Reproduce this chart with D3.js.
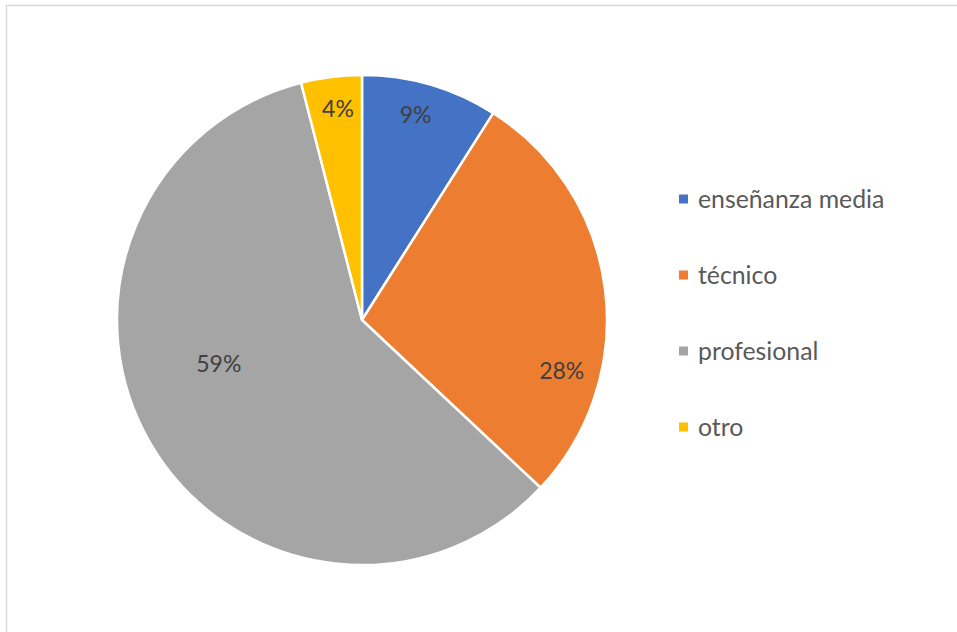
<!DOCTYPE html>
<html>
<head>
<meta charset="utf-8">
<script src="https://cdn.jsdelivr.net/npm/d3@7"></script>
<style>
  html, body { margin: 0; padding: 0; background: #ffffff; }
  svg { display: block; }
  text { font-family: Lato, "Open Sans", "Liberation Sans", sans-serif; }
</style>
</head>
<body>
<svg id="chart" width="957" height="632"></svg>
<script>
// Nivel de estudios
const categories = ["enseñanza media", "técnico", "profesional", "otro"];
const values = [9, 28, 59, 4];
const colors = ["#4472C4", "#ED7D31", "#A5A5A5", "#FFC000"];

// Where each percentage sits inside its slice: fraction along the slice's sweep and of the radius
const labelAlong = [0.45, 0.71, 0.566, 0.55];
const labelRadius = [0.87, 0.84, 0.61, 0.87];

const W = 957, H = 632;
const cx = 362, cy = 320, R = 245;

const svg = d3.select("#chart");

// chart area frame
svg.append("rect")
  .attr("x", 6.5).attr("y", 5.5)
  .attr("width", W + 10).attr("height", H + 10)
  .attr("fill", "#ffffff")
  .attr("stroke", "#d9d9d9")
  .attr("stroke-width", 1.5);

const pie = d3.pie().sort(null).value(d => d.value);
const data = categories.map((c, i) => ({ cat: c, value: values[i], color: colors[i], i }));
const arcs = pie(data);
const total = d3.sum(values);

const arc = d3.arc().innerRadius(0).outerRadius(R);

const g = svg.append("g").attr("transform", `translate(${cx},${cy})`);

g.selectAll("path.slice")
  .data(arcs)
  .join("path")
  .attr("class", "slice")
  .attr("d", arc)
  .attr("fill", d => d.data.color)
  .attr("stroke", "#ffffff")
  .attr("stroke-width", 2.5)
  .attr("stroke-linejoin", "round");

const fmt = d3.format(".0%");
g.selectAll("text.pct")
  .data(arcs)
  .join("text")
  .attr("class", "pct")
  .attr("x", d => {
    const a = d.startAngle + (d.endAngle - d.startAngle) * labelAlong[d.data.i];
    return Math.sin(a) * R * labelRadius[d.data.i];
  })
  .attr("y", d => {
    const a = d.startAngle + (d.endAngle - d.startAngle) * labelAlong[d.data.i];
    return -Math.cos(a) * R * labelRadius[d.data.i];
  })
  .attr("text-anchor", "middle")
  .attr("dominant-baseline", "central")
  .attr("font-size", 23)
  .attr("fill", "#404040")
  .text(d => fmt(d.data.value / total));

// legend
const legendY = d3.scalePoint().domain(categories).range([198, 426]);
const leg = svg.append("g");
const items = leg.selectAll("g.item")
  .data(data)
  .join("g")
  .attr("class", "item")
  .attr("transform", d => `translate(679,${legendY(d.cat)})`);

items.append("rect")
  .attr("x", 0).attr("y", -3.5)
  .attr("width", 9).attr("height", 9)
  .attr("fill", d => d.color);

items.append("text")
  .attr("x", 19).attr("y", 0)
  .attr("dominant-baseline", "central")
  .attr("font-size", 24.8)
  .attr("fill", "#595959")
  .text(d => d.cat);
</script>
</body>
</html>
